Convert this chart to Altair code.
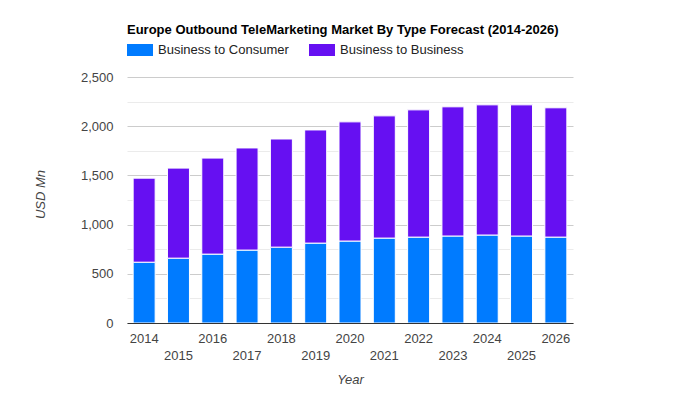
import altair as alt
import pandas as pd

years = ["2014", "2015", "2016", "2017", "2018", "2019", "2020",
         "2021", "2022", "2023", "2024", "2025", "2026"]
b2c = [618, 659, 700, 741, 771, 812, 833, 863, 873, 884, 894, 884, 873]
b2b = [854, 915, 976, 1038, 1099, 1150, 1211, 1242, 1293, 1313, 1323, 1333, 1314]
types = ["Business to Consumer", "Business to Business"]
colors = ["#007bff", "#6610f2"]
y_ticks = [0, 250, 500, 750, 1000, 1250, 1500, 1750, 2000, 2250, 2500]

rows = []
for i, y in enumerate(years):
    rows.append({"Year": y, "Type": types[0], "Value": b2c[i], "ord": 0})
    rows.append({"Year": y, "Type": types[1], "Value": b2b[i], "ord": 1})
df = pd.DataFrame(rows)

FONT = "Liberation Sans"

chart = alt.Chart(df).mark_bar(size=22, stroke="white", strokeWidth=1).encode(
    x=alt.X(
        "Year:N", sort=years,
        scale=alt.Scale(paddingInner=0.38, paddingOuter=0.19),
        axis=alt.Axis(
            title="Year", labelAngle=0,
            labelExpr="toNumber(datum.value) % 2 == 0 ? datum.label : ['', datum.label]",
            labelLineHeight=17, labelOverlap=False, ticks=False, labelPadding=9,
            labelFont=FONT, labelFontSize=13, labelColor="#444",
            domainColor="#333", domainWidth=1, zindex=1, grid=False,
            titleFont=FONT, titleFontSize=13, titleFontStyle="italic",
            titleFontWeight="normal", titleColor="#444",
            titleY=60, titleBaseline="alphabetic",
        ),
    ),
    y=alt.Y(
        "Value:Q", stack="zero",
        scale=alt.Scale(domain=[0, 2500], nice=False),
        axis=alt.Axis(
            title="USD Mn", values=y_ticks, format=",.0f",
            labelExpr="datum.value % 500 === 0 ? datum.label : ''",
            gridColor={"condition": {"test": "datum.value % 500 === 0", "value": "#cccccc"},
                       "value": "#ebebeb"},
            ticks=False, domain=False, labelPadding=14,
            labelFont=FONT, labelFontSize=13, labelColor="#444",
            titleFont=FONT, titleFontSize=13, titleFontStyle="italic",
            titleFontWeight="normal", titleColor="#444",
            titleX=-83, titleY=117, titleAlign="center", titleBaseline="alphabetic",
        ),
    ),
    color=alt.Color(
        "Type:N",
        scale=alt.Scale(domain=types, range=colors),
        legend=alt.Legend(
            orient="none", legendX=0, legendY=-40, direction="horizontal", title=None,
            symbolType="M-1,-0.46L1,-0.46L1,0.46L-1,0.46Z", symbolSize=676,
            symbolStrokeWidth=0, symbolOpacity=1,
            labelFont=FONT, labelFontSize=13, labelColor="#222",
            columnPadding=20, labelOffset=5, padding=0,
        ),
    ),
    order=alt.Order("ord:Q"),
).properties(
    width=446, height=246,
    autosize=alt.AutoSizeParams(type="none"),
    padding={"left": 127, "top": 77, "right": 127, "bottom": 77},
    title=alt.TitleParams(
        "Europe Outbound TeleMarketing Market By Type Forecast (2014-2026)",
        anchor="start", frame="group", font=FONT, fontSize=13, fontWeight="bold",
        color="#000", offset=0,
    ),
).configure_view(stroke=None)

chart.save("out.html", embed_options={"renderer": "svg", "actions": False})
